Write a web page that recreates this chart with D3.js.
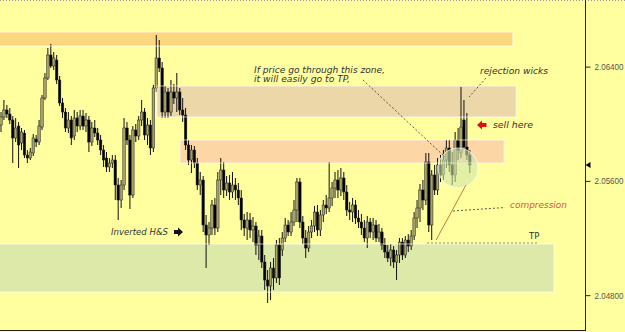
<!DOCTYPE html>
<html>
<head>
<meta charset="utf-8">
<script src="https://cdn.jsdelivr.net/npm/d3@7"></script>
<style>
  body { margin: 0; background: #ffffa0; }
  svg { display: block; }
</style>
</head>
<body>
<div id="chart"></div>
<script>
// Dados das velas (OHLC)
const opens = [
  2.05991, 2.06047, 2.06096, 2.06068, 2.06026, 2.05900, 2.05984, 2.05865, 2.05935, 2.05781,
  2.05760, 2.05795, 2.05893, 2.05872, 2.05977, 2.06180, 2.06320, 2.06481, 2.06404, 2.06446,
  2.06306, 2.06145, 2.06082, 2.05970, 2.06026, 2.05914, 2.06040, 2.05984, 2.06054, 2.05984,
  2.06026, 2.05872, 2.05970, 2.05935, 2.05886, 2.05816, 2.05760, 2.05697, 2.05725, 2.05746,
  2.05571, 2.05466, 2.05571, 2.05970, 2.05886, 2.05501, 2.05956, 2.05914, 2.06026, 2.06082,
  2.05921, 2.05991, 2.05830, 2.06250, 2.06460, 2.06390, 2.06082, 2.06222, 2.06082, 2.06222,
  2.06180, 2.06222, 2.06096, 2.06061, 2.05851, 2.05746, 2.05816, 2.05725, 2.05571, 2.05606,
  2.05291, 2.05221, 2.05270, 2.05431, 2.05270, 2.05606, 2.05676, 2.05536, 2.05585, 2.05522,
  2.05571, 2.05536, 2.05480, 2.05326, 2.05270, 2.05326, 2.05256, 2.05284, 2.05151, 2.05214,
  2.05032, 2.04906, 2.04864, 2.04990, 2.04920, 2.05151, 2.05116, 2.05200, 2.05291, 2.05242,
  2.05312, 2.05396, 2.05592, 2.05312, 2.05200, 2.05130, 2.05242, 2.05284, 2.05382, 2.05256,
  2.05361, 2.05431, 2.05410, 2.05480, 2.05550, 2.05606, 2.05536, 2.05620, 2.05522, 2.05396,
  2.05382, 2.05431, 2.05340, 2.05312, 2.05270, 2.05200, 2.05312, 2.05242, 2.05291, 2.05200,
  2.05242, 2.05151, 2.05102, 2.05060, 2.05116, 2.05032, 2.05081, 2.05172, 2.05081, 2.05186,
  2.05144, 2.05214, 2.05340, 2.05410, 2.05536, 2.05466, 2.05732, 2.05291, 2.05641, 2.05536,
  2.05711, 2.05641, 2.05746, 2.05830, 2.05711, 2.05641, 2.05886, 2.05795, 2.06026, 2.05837, 2.05781
];
const highs = [
  2.06082, 2.06166, 2.06131, 2.06110, 2.06054, 2.06040, 2.06012, 2.05970, 2.05956, 2.05816,
  2.05830, 2.05928, 2.05921, 2.06026, 2.06201, 2.06355, 2.06530, 2.06558, 2.06502, 2.06481,
  2.06334, 2.06180, 2.06110, 2.06082, 2.06054, 2.06096, 2.06082, 2.06096, 2.06096, 2.06075,
  2.06054, 2.06012, 2.06026, 2.05970, 2.05921, 2.05851, 2.05802, 2.05760, 2.05781, 2.05781,
  2.05620, 2.05606, 2.06040, 2.06012, 2.05921, 2.05984, 2.05998, 2.06054, 2.06166, 2.06110,
  2.06040, 2.06026, 2.06271, 2.06621, 2.06586, 2.06432, 2.06264, 2.06250, 2.06306, 2.06278,
  2.06355, 2.06250, 2.06180, 2.06110, 2.05886, 2.05851, 2.05844, 2.05760, 2.05662, 2.05634,
  2.05361, 2.05312, 2.05466, 2.05480, 2.05662, 2.05760, 2.05732, 2.05634, 2.05641, 2.05662,
  2.05620, 2.05585, 2.05536, 2.05368, 2.05382, 2.05375, 2.05347, 2.05312, 2.05256, 2.05256,
  2.05081, 2.04976, 2.05032, 2.05060, 2.05186, 2.05200, 2.05242, 2.05340, 2.05326, 2.05382,
  2.05466, 2.05620, 2.05620, 2.05354, 2.05256, 2.05284, 2.05326, 2.05424, 2.05431, 2.05396,
  2.05466, 2.05501, 2.05732, 2.05592, 2.05662, 2.05676, 2.05690, 2.05662, 2.05571, 2.05452,
  2.05480, 2.05466, 2.05396, 2.05368, 2.05326, 2.05354, 2.05340, 2.05340, 2.05326, 2.05298,
  2.05270, 2.05200, 2.05151, 2.05158, 2.05144, 2.05116, 2.05200, 2.05200, 2.05214, 2.05228,
  2.05256, 2.05382, 2.05466, 2.05578, 2.05606, 2.05795, 2.05795, 2.05676, 2.05711, 2.05760,
  2.05781, 2.05816, 2.05886, 2.05886, 2.05802, 2.05942, 2.05970, 2.06257, 2.06166, 2.06075, 2.05816
];
const lows = [
  2.05942, 2.06026, 2.06040, 2.05998, 2.05725, 2.05872, 2.05690, 2.05816, 2.05760, 2.05725,
  2.05746, 2.05774, 2.05837, 2.05851, 2.05956, 2.06166, 2.06306, 2.06390, 2.06376, 2.06278,
  2.06124, 2.06040, 2.05942, 2.05935, 2.05851, 2.05886, 2.05942, 2.05956, 2.05956, 2.05942,
  2.05802, 2.05844, 2.05907, 2.05851, 2.05781, 2.05697, 2.05662, 2.05662, 2.05690, 2.05466,
  2.05326, 2.05410, 2.05536, 2.05851, 2.05403, 2.05480, 2.05872, 2.05886, 2.05984, 2.05886,
  2.05851, 2.05781, 2.05802, 2.06222, 2.06362, 2.06040, 2.06040, 2.06040, 2.06054, 2.06138,
  2.06082, 2.06061, 2.06012, 2.05816, 2.05711, 2.05655, 2.05690, 2.05536, 2.05501, 2.05242,
  2.04990, 2.05151, 2.05221, 2.05221, 2.05242, 2.05501, 2.05480, 2.05494, 2.05466, 2.05480,
  2.05466, 2.05431, 2.05256, 2.05214, 2.05186, 2.05200, 2.05172, 2.05081, 2.05046, 2.04990,
  2.04836, 2.04745, 2.04766, 2.04836, 2.04885, 2.04871, 2.05074, 2.05172, 2.05214, 2.05214,
  2.05284, 2.05312, 2.05270, 2.05158, 2.05060, 2.05102, 2.05200, 2.05242, 2.05214, 2.05214,
  2.05312, 2.05368, 2.05382, 2.05424, 2.05480, 2.05480, 2.05494, 2.05466, 2.05354, 2.05326,
  2.05312, 2.05298, 2.05270, 2.05221, 2.05172, 2.05130, 2.05200, 2.05186, 2.05172, 2.05172,
  2.05116, 2.05060, 2.05032, 2.05004, 2.04990, 2.04906, 2.05025, 2.05046, 2.05060, 2.05102,
  2.05116, 2.05186, 2.05270, 2.05312, 2.05396, 2.05431, 2.05242, 2.05186, 2.05501, 2.05501,
  2.05592, 2.05606, 2.05690, 2.05662, 2.05571, 2.05592, 2.05746, 2.05760, 2.05816, 2.05746, 2.05655
];
const closes = [
  2.06047, 2.06096, 2.06068, 2.06026, 2.05900, 2.05970, 2.05851, 2.05942, 2.05781, 2.05760,
  2.05802, 2.05900, 2.05872, 2.05984, 2.06180, 2.06320, 2.06481, 2.06404, 2.06460, 2.06306,
  2.06145, 2.06082, 2.05970, 2.06026, 2.05900, 2.06040, 2.05984, 2.06054, 2.05984, 2.06026,
  2.05872, 2.05970, 2.05935, 2.05886, 2.05816, 2.05746, 2.05697, 2.05725, 2.05746, 2.05571,
  2.05466, 2.05571, 2.05970, 2.05886, 2.05501, 2.05956, 2.05914, 2.06026, 2.06082, 2.05921,
  2.05991, 2.05830, 2.06250, 2.06460, 2.06390, 2.06082, 2.06222, 2.06082, 2.06222, 2.06180,
  2.06222, 2.06096, 2.06061, 2.05851, 2.05746, 2.05816, 2.05725, 2.05571, 2.05606, 2.05291,
  2.05221, 2.05270, 2.05431, 2.05270, 2.05606, 2.05676, 2.05536, 2.05585, 2.05522, 2.05571,
  2.05536, 2.05480, 2.05326, 2.05270, 2.05326, 2.05256, 2.05284, 2.05151, 2.05214, 2.05032,
  2.04906, 2.04864, 2.04990, 2.04920, 2.05151, 2.04920, 2.05200, 2.05291, 2.05242, 2.05312,
  2.05396, 2.05592, 2.05312, 2.05200, 2.05130, 2.05242, 2.05284, 2.05382, 2.05256, 2.05361,
  2.05431, 2.05410, 2.05480, 2.05550, 2.05606, 2.05536, 2.05620, 2.05522, 2.05396, 2.05382,
  2.05431, 2.05340, 2.05312, 2.05270, 2.05200, 2.05312, 2.05242, 2.05291, 2.05200, 2.05242,
  2.05151, 2.05102, 2.05060, 2.05116, 2.05032, 2.05081, 2.05172, 2.05081, 2.05186, 2.05144,
  2.05214, 2.05340, 2.05410, 2.05536, 2.05466, 2.05732, 2.05291, 2.05641, 2.05536, 2.05711,
  2.05641, 2.05746, 2.05830, 2.05711, 2.05641, 2.05886, 2.05816, 2.05977, 2.05837, 2.05781, 2.05711
];

// Eixo de preços
const priceTicks = [2.048, 2.056, 2.064];

// Zonas (preço de cima / de baixo, barra inicial / final)
const zoneTop    = [2.06642, 2.06264, 2.05886, 2.05158];
const zoneBottom = [2.06544, 2.06047, 2.05725, 2.04822];
const zoneFrom   = [-1, 53.2, 61.1, -1];
const zoneTo     = [174.7, 175.8, 171.7, 188.7];

// Nível de TP e linha de compressão
const tpLevel = 2.05165;
const tpFrom = 145.4, tpTo = 182.9;
const compStart = [148.5, 2.05186];
const compEnd = [158.7, 2.05571];
const circleAt = [156, 2.05690];

const W = 625, H = 332;
const plotRight = 585, plotBottom = 330;

const svg = d3.select('#chart')
  .append('svg')
  .attr('width', W)
  .attr('height', H);

const x = d3.scaleLinear().domain([0, 199]).range([1, 584.07]);
const y = d3.scaleLinear().domain([2.04556, 2.06859]).range([330, 1]);

svg.append('rect')
  .attr('width', W).attr('height', H)
  .attr('fill', '#ffffa0');

const plot = svg.append('g');
plot.append('clipPath').attr('id', 'clip')
  .append('rect').attr('x', 0).attr('y', 0).attr('width', plotRight).attr('height', plotBottom);

const zoneColors = ['#fdd680', '#ecd7a8', '#fdd6a6', '#dde9a8'];
const zones = zoneTop.map((t, i) => ({ top: t, bottom: zoneBottom[i], from: zoneFrom[i], to: zoneTo[i], color: zoneColors[i] }));

// Zonas por baixo das velas
plot.selectAll('rect.zone')
  .data(zones)
  .enter()
  .append('rect')
  .attr('class', 'zone')
  .attr('clip-path', 'url(#clip)')
  .attr('x', d => x(d.from))
  .attr('y', d => y(d.top))
  .attr('width', d => x(d.to) - x(d.from))
  .attr('height', d => y(d.bottom) - y(d.top))
  .attr('fill', d => d.color);

// Velas
const candles = opens.map((o, i) => ({ i, o, h: highs[i], l: lows[i], c: closes[i] }));
const cw = 2.5;

plot.selectAll('line.wick')
  .data(candles)
  .enter()
  .append('line')
  .attr('class', 'wick')
  .attr('x1', d => x(d.i)).attr('x2', d => x(d.i))
  .attr('y1', d => y(d.h)).attr('y2', d => y(d.l))
  .attr('stroke', '#111')
  .attr('stroke-width', 1);

plot.selectAll('rect.body')
  .data(candles)
  .enter()
  .append('rect')
  .attr('class', 'body')
  .attr('x', d => x(d.i) - cw / 2)
  .attr('y', d => y(Math.max(d.o, d.c)))
  .attr('width', cw)
  .attr('height', d => Math.max(1, Math.abs(y(d.o) - y(d.c))))
  .attr('fill', d => d.c >= d.o ? '#a8a268' : '#000')
  .attr('stroke', '#222')
  .attr('stroke-width', 0.5);

// Bordas claras das zonas, por cima das velas
plot.selectAll('rect.edge')
  .data(zones)
  .enter()
  .append('rect')
  .attr('class', 'edge')
  .attr('clip-path', 'url(#clip)')
  .attr('x', d => x(d.from))
  .attr('y', d => y(d.top))
  .attr('width', d => x(d.to) - x(d.from))
  .attr('height', d => y(d.bottom) - y(d.top))
  .attr('fill', 'none')
  .attr('stroke', '#fff')
  .attr('stroke-opacity', 0.65)
  .attr('stroke-width', 1);

// Círculo verde de compressão
plot.append('circle')
  .attr('cx', x(circleAt[0]))
  .attr('cy', y(circleAt[1]))
  .attr('r', 20)
  .attr('fill', '#cfe4a8')
  .attr('fill-opacity', 0.6)
  .attr('stroke', '#fff')
  .attr('stroke-opacity', 0.7);

// Linha de TP
plot.append('line')
  .attr('x1', x(tpFrom)).attr('x2', x(tpTo))
  .attr('y1', y(tpLevel)).attr('y2', y(tpLevel))
  .attr('stroke', '#888')
  .attr('stroke-dasharray', '2,2');

// Linha de compressão
plot.append('line')
  .attr('x1', x(compStart[0])).attr('y1', y(compStart[1]))
  .attr('x2', x(compEnd[0])).attr('y2', y(compEnd[1]))
  .attr('stroke', '#c97a40')
  .attr('stroke-width', 1);

// Anotações
const note = { fill: '#333', font: 'DejaVu Sans' };
function label(tx, ty, str, color, len) {
  const t = svg.append('text')
    .attr('x', tx).attr('y', ty)
    .attr('font-family', note.font)
    .attr('font-size', '8px')
    .attr('font-style', 'italic')
    .attr('fill', color || note.fill)
    .text(str);
  if (len) t.attr('textLength', len).attr('lengthAdjust', 'spacingAndGlyphs');
  return t;
}
function dashed(x1, y1, x2, y2) {
  svg.append('line')
    .attr('x1', x1).attr('y1', y1).attr('x2', x2).attr('y2', y2)
    .attr('stroke', '#333')
    .attr('stroke-width', 0.8)
    .attr('stroke-dasharray', '2,2');
}

label(254, 73, 'If price go through this zone,', null, 131);
label(254, 82, 'it will easily go to TP,', null, 96);
dashed(363, 80, 445, 157);

label(480, 74, 'rejection wicks', null, 68);
dashed(486, 78, 469, 97);

label(493, 128, 'sell here', null, 40);
svg.append('path')
  .attr('d', 'M477,125 L482,120.5 L482,123 L486.5,123 L486.5,127 L482,127 L482,129.5 Z')
  .attr('fill', '#e01010');

label(510, 208, 'compression', '#d4583a', 57);
dashed(453, 211, 505, 207.5);

svg.append('text')
  .attr('x', 529).attr('y', 239)
  .attr('font-family', 'DejaVu Sans')
  .attr('font-size', '8.5px')
  .attr('fill', '#333')
  .text('TP');

label(111, 235, 'Inverted H&S', null, 57);
svg.append('path')
  .attr('d', 'M183,232 L178,227.5 L178,230 L174,230 L174,234 L178,234 L178,236.5 Z')
  .attr('fill', '#111');

// Borda superior pontilhada
svg.append('line')
  .attr('x1', 0).attr('x2', W).attr('y1', 0.5).attr('y2', 0.5)
  .attr('stroke', '#999')
  .attr('stroke-dasharray', '1,2');

// Eixo inferior e eixo de preços
svg.append('line')
  .attr('x1', 0).attr('x2', plotRight + 0.5)
  .attr('y1', plotBottom + 0.5).attr('y2', plotBottom + 0.5)
  .attr('stroke', '#222');

const axis = svg.append('g')
  .attr('transform', `translate(${plotRight + 0.5},0)`)
  .call(d3.axisRight(y).tickValues(priceTicks).tickFormat(d3.format('.5f')).tickSize(5).tickSizeOuter(0).tickPadding(4));
axis.select('.domain').remove();
axis.append('line').attr('y1', 0).attr('y2', plotBottom + 1).attr('stroke', '#222');
axis.selectAll('.tick line').attr('stroke', '#222');
axis.selectAll('.tick text')
  .attr('fill', '#555')
  .attr('font-family', 'Liberation Sans')
  .attr('font-size', '9.5px')
  .attr('textLength', 29)
  .attr('lengthAdjust', 'spacingAndGlyphs');

// Marcador do preço atual
const lastY = y(closes[closes.length - 1]);
axis.append('path')
  .attr('d', `M0,${lastY} L5,${lastY - 3} L5,${lastY + 3} Z`)
  .attr('fill', '#000');
</script>
</body>
</html>
